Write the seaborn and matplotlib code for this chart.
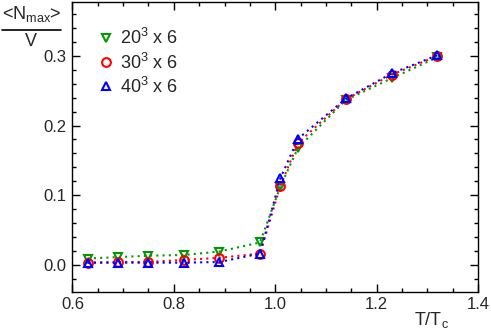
import seaborn as sns
import pandas as pd
import matplotlib.pyplot as plt
from matplotlib.lines import Line2D
from matplotlib.ticker import MultipleLocator

OUT_FN = 'out.png'

# T/Tc values
t_over_tc = [0.63, 0.69, 0.75, 0.82, 0.89, 0.97, 1.01, 1.045, 1.14, 1.23, 1.32]

# <N_max>/V for each lattice
n_20 = [0.009, 0.011, 0.013, 0.014, 0.019, 0.032, 0.112, 0.168, 0.237, 0.268, 0.298]
n_30 = [0.003, 0.004, 0.004, 0.007, 0.010, 0.016, 0.113, 0.175, 0.238, 0.273, 0.300]
n_40 = [0.003, 0.003, 0.003, 0.003, 0.004, 0.016, 0.124, 0.181, 0.239, 0.275, 0.301]

labels = ['20$^3$ x 6', '30$^3$ x 6', '40$^3$ x 6']
colors = ['#009900', '#ff0000', '#0000ff']
markers = ['v', 'o', '^']


def build_frame():
    rows = []
    for lab, vals in zip(labels, [n_20, n_30, n_40]):
        for t, v in zip(t_over_tc, vals):
            rows.append({'T': t, 'N': v, 'lattice': lab})
    return pd.DataFrame(rows)


def plot_nmax(df):
    sns.set_style('ticks')
    plt.rcParams['font.family'] = ['Liberation Sans', 'DejaVu Sans']
    plt.rcParams['mathtext.fontset'] = 'custom'
    plt.rcParams['mathtext.rm'] = 'Liberation Sans'
    plt.rcParams['mathtext.default'] = 'regular'

    fig = plt.figure(figsize=(4.91, 3.34), dpi=100)
    ax = fig.add_axes([0.1475, 0.126, 0.826, 0.867])

    for lab, col, mk in zip(labels, colors, markers):
        sub = df[df['lattice'] == lab]
        sns.lineplot(data=sub, x='T', y='N', ax=ax, color=col, marker=mk,
                     markersize=6.3, markerfacecolor='none', markeredgecolor=col,
                     markeredgewidth=1.5, linestyle=(0, (1, 2)), linewidth=1.5,
                     legend=False)

    ax.set_xlim(0.6, 1.4)
    ax.set_ylim(-0.039, 0.377)
    ax.xaxis.set_major_locator(MultipleLocator(0.2))
    ax.xaxis.set_minor_locator(MultipleLocator(0.05))
    ax.yaxis.set_major_locator(MultipleLocator(0.1))
    ax.yaxis.set_minor_locator(MultipleLocator(0.02))
    ax.set_xticklabels([f'{v:.1f}' for v in ax.get_xticks()])
    ax.set_yticklabels([f'{v:.1f}' for v in ax.get_yticks()])
    ax.tick_params(which='both', direction='in', top=True, right=True,
                   labelsize=12, width=1, color='black', pad=4)
    ax.tick_params(which='major', length=5.5)
    ax.tick_params(which='minor', length=3)
    for sp in ax.spines.values():
        sp.set_linewidth(1)
        sp.set_color('black')
    ax.set_xlabel('')
    ax.set_ylabel('')

    # axis titles, ROOT style
    fig.text(432 / 491, 1 - 320 / 334, 'T/T$_c$', fontsize=13,
             ha='center', va='center')
    fig.text(32 / 491, 1 - 14 / 334, '<N$_{max}$>', fontsize=13,
             ha='center', va='center')
    fig.add_artist(Line2D([2 / 491, 61 / 491], [1 - 29.5 / 334, 1 - 29.5 / 334],
                          color='black', lw=1.2))
    fig.text(31 / 491, 1 - 41 / 334, 'V', fontsize=13, ha='center', va='center')

    handles = [Line2D([], [], ls='none', marker=mk, markersize=6.3,
                      markerfacecolor='none', markeredgecolor=col,
                      markeredgewidth=1.5)
               for col, mk in zip(colors, markers)]
    ax.legend(handles, labels, loc='upper left', bbox_to_anchor=(0.048, 0.935),
              frameon=False, fontsize=13, handlelength=0.8, handletextpad=0.35,
              labelspacing=0.22, borderaxespad=0)

    fig.savefig(OUT_FN, dpi=100)
    plt.clf()


def main():
    df = build_frame()
    plot_nmax(df)


if __name__ == '__main__':
    main()
